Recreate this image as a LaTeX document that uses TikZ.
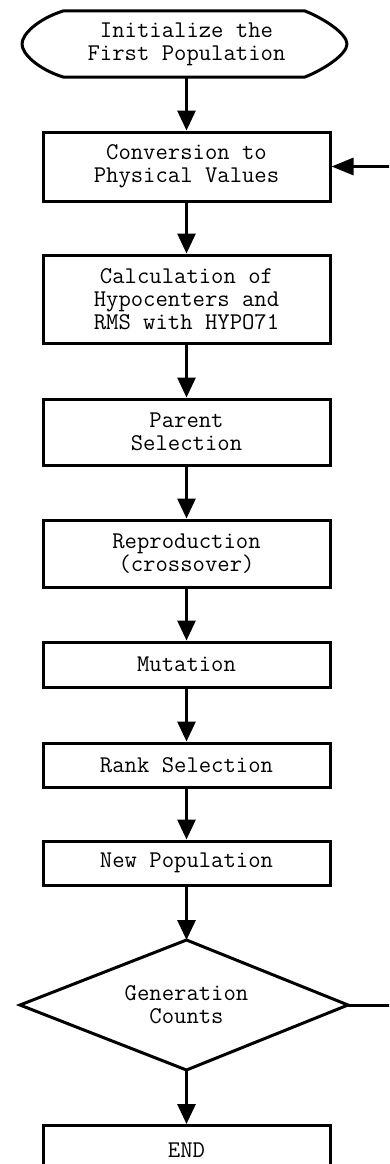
\documentclass[tikz,border=0pt]{standalone}
\usepackage{fontspec}
\usetikzlibrary{arrows.meta,shapes.geometric}
\begin{document}
\begin{tikzpicture}[x=1pt,y=-1pt,
  every node/.style={font=\ttfamily\fontsize{24}{23}\selectfont, align=center, inner sep=0pt},
  procbox/.style={draw, line width=3pt, minimum width=287pt},
  flow/.style={line width=3pt, -{Triangle[width=18pt,length=20pt]}},
  link/.style={line width=3pt}]
\useasboundingbox (0,0) rectangle (389,1164);
\begin{scope}
\clip (0,0) rectangle (389,1164);

% start terminal
\node (init) at (186.5,44) {Initialize the\\First Population};
\draw[line width=3pt, line join=round]
  (63,11) -- (305,11)
  .. controls (325,19) and (347,34) .. (347,44)
  .. controls (347,54) and (325,69) .. (305,77)
  -- (63,77)
  .. controls (38,69) and (22,54) .. (22,44)
  .. controls (22,34) and (38,19) .. (63,11) -- cycle;
\coordinate (initS) at (186.5,77);

% process boxes
\node[procbox, minimum height=69pt] (conv) at (186.5,166.5) {Conversion to\\Physical Values};
\node[procbox, minimum height=88pt] (calc) at (186.5,299) {Calculation of\\Hypocenters and\\RMS with HYPO71};
\node[procbox, minimum height=66pt] (par) at (186.5,432) {Parent\\Selection};
\node[procbox, minimum height=67pt] (rep) at (186.5,553.5) {Reproduction\\(crossover)};
\node[procbox, minimum height=45pt] (mut) at (186.5,664.5) {Mutation};
\node[procbox, minimum height=44pt] (rank) at (186.5,765) {Rank Selection};
\node[procbox, minimum height=44pt] (newp) at (186.5,863) {New Population};

% decision
\draw[line width=3pt, line join=miter]
  (186.5,940) -- (348,1005) -- (186.5,1070) -- (20,1005) -- cycle;
\node (gen) at (186.5,1005) {Generation\\Counts};
\coordinate (genN) at (186.5,940);
\coordinate (genS) at (186.5,1070);
\coordinate (genE) at (348,1005);

% end box (runs past the lower edge)
\node[procbox, minimum height=50pt, anchor=north] (endb) at (186.5,1124) {\raisebox{-4pt}{END}};

% connectors
\draw[flow] (initS) -- (conv.north);
\draw[flow] (conv.south) -- (calc.north);
\draw[flow] (calc.south) -- (par.north);
\draw[flow] (par.south) -- (rep.north);
\draw[flow] (rep.south) -- (mut.north);
\draw[flow] (mut.south) -- (rank.north);
\draw[flow] (rank.south) -- (newp.north);
\draw[flow] (newp.south) -- (genN);
\draw[flow] (genS) -- (endb.north);

% loop back from the decision to the conversion step
\coordinate (loopB) at (396,1005);
\coordinate (loopT) at (396,166.5);
\draw[line width=3pt, -{Triangle[width=17pt,length=22pt]}]
  (genE) -- (loopB) -- (loopT) -- (conv.east);
\end{scope}
\end{tikzpicture}
\end{document}
